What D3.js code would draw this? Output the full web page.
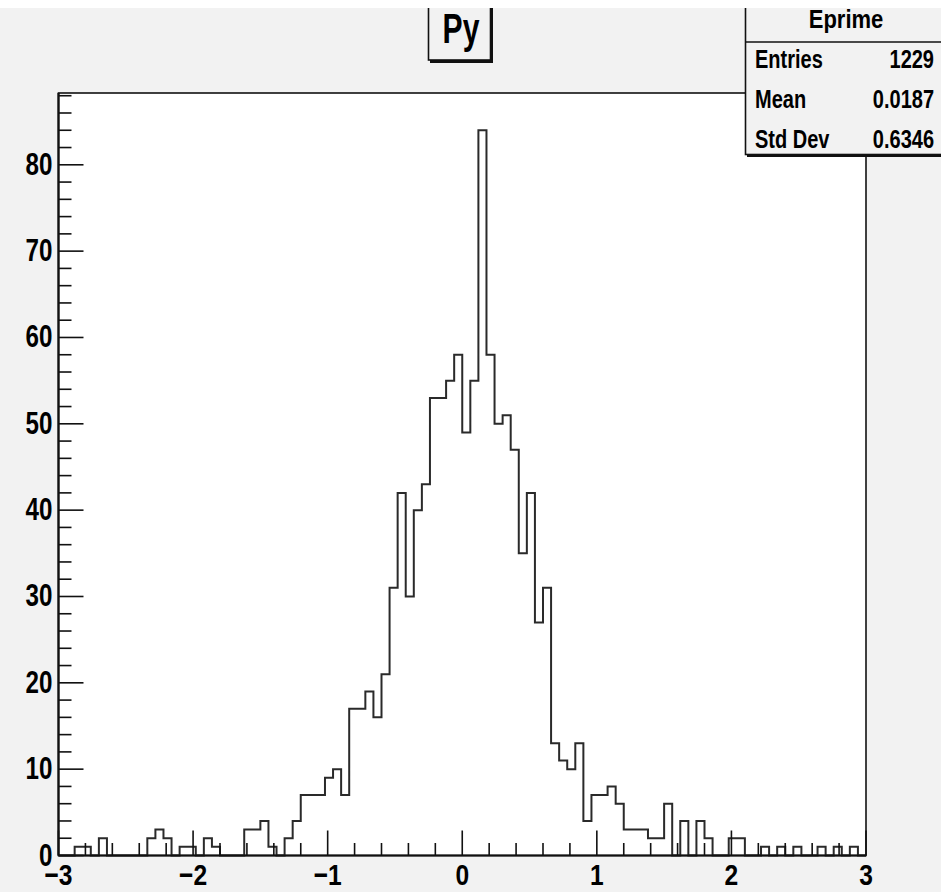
<!DOCTYPE html>
<html><head><meta charset="utf-8">
<script src="https://cdn.jsdelivr.net/npm/d3@7"></script>
<style>html,body{margin:0;padding:0;background:#f2f2f2;}svg{display:block;}</style>
</head><body>
<script>
// ---- data ----
const xMin = -3, xMax = 3;
const binCounts = [
  0,0,1,1,0,2,0,0,0,0,
  0,2,3,2,0,1,1,0,2,1,
  0,0,0,3,3,4,1,0,2,4,
  7,7,7,9,10,7,17,17,19,16,
  21,31,42,30,40,43,53,53,55,58,
  49,55,84,58,50,51,47,35,42,27,
  31,13,11,10,13,4,7,7,8,6,
  3,3,3,2,2,6,0,4,0,4,
  2,0,0,2,2,0,0,1,0,1,
  0,1,0,0,1,0,1,0,1,0
];
const xTickLabels = [-3,-2,-1,0,1,2,3];
const yTickLabels = [0,10,20,30,40,50,60,70,80];
const plotTitle = "Py";
const statsTitle = "Eprime";
const statsNames = ["Entries","Mean","Std Dev"];
const statsValues = ["1229","0.0187","0.6346"];

// ---- layout ----
const W = 941, H = 892;
const fx0 = 58.5, fx1 = 866, fy0 = 94, fy1 = 855.5;
const yMax = d3.max(binCounts) * 1.05;
const FONT = "'Liberation Sans', Arial, Helvetica, sans-serif";

const svg = d3.select("body").append("svg").attr("width", W).attr("height", H);
svg.append("rect").attr("width", W).attr("height", H).attr("fill", "#f2f2f2");

const x = d3.scaleLinear().domain([xMin, xMax]).range([fx0, fx1]);
const y = d3.scaleLinear().domain([0, yMax]).range([fy1, fy0]);
const nBins = binCounts.length;
const bw = (xMax - xMin) / nBins;

function txt(g, px, py, s, size, sx, anchor) {
  return g.append("text")
    .attr("transform", `translate(${px},${py}) scale(${sx},1)`)
    .attr("text-anchor", anchor)
    .attr("font-family", FONT).attr("font-weight", "bold")
    .attr("font-size", size).attr("fill", "#000").text(s);
}

// frame
svg.append("rect").attr("x", fx0).attr("y", fy0 - 1).attr("width", fx1 - fx0).attr("height", fy1 - fy0 + 1)
  .attr("fill", "#fff").attr("stroke", "#111").attr("stroke-width", 1.6);

// histogram outline
let p = `M${x(xMin)},${y(0)}`;
binCounts.forEach((c, i) => {
  p += `V${y(c)}H${x(xMin + (i + 1) * bw)}`;
});
p += `V${y(0)}`;
svg.append("path").attr("d", p).attr("fill", "none").attr("stroke", "#2a2a2a").attr("stroke-width", 2);

// axes
const ax = svg.append("g");
// x ticks: major every 1, minor every 0.2
const xMinor = d3.range(0, 31).map(k => xMin + k * 0.2);
xMinor.forEach(v => {
  const isMajor = Math.abs(v - Math.round(v)) < 1e-6;
  ax.append("line").attr("x1", x(v)).attr("x2", x(v)).attr("y1", fy1).attr("y2", fy1 - (isMajor ? 25 : 12.5))
    .attr("stroke", "#111").attr("stroke-width", 1.6);
});
// y ticks: major every 10, minor every 2
d3.range(0, yMax, 2).forEach(v => {
  const isMajor = v % 10 === 0;
  ax.append("line").attr("x1", fx0).attr("x2", fx0 + (isMajor ? 25 : 13)).attr("y1", y(v)).attr("y2", y(v))
    .attr("stroke", "#111").attr("stroke-width", 1.6);
});
ax.append("line").attr("x1", fx0).attr("x2", fx0).attr("y1", fy0 - 1).attr("y2", fy1).attr("stroke", "#111").attr("stroke-width", 2.2);
ax.append("line").attr("x1", fx0).attr("x2", fx1).attr("y1", fy1).attr("y2", fy1).attr("stroke", "#111").attr("stroke-width", 2.2);

xTickLabels.forEach(v => {
  txt(ax, x(v), 885, v < 0 ? "\u2212" + Math.abs(v) : String(v), 30, 0.82, "middle");
});
yTickLabels.forEach(v => {
  txt(ax, 52.5, y(v) + 10, String(v), 31, 0.78, "end");
});

// title box
const tb = svg.append("g");
tb.append("rect").attr("x", 430).attr("y", -10).attr("width", 63).attr("height", 73).attr("fill", "#111");
tb.append("rect").attr("x", 428.5).attr("y", -10).attr("width", 62).attr("height", 70)
  .attr("fill", "#f2f2f2").attr("stroke", "#111").attr("stroke-width", 1.6);
txt(tb, 461, 43, plotTitle, 43, 0.70, "middle");

// stats box
const sb = svg.append("g");
sb.append("rect").attr("x", 747).attr("y", -10).attr("width", 210).attr("height", 167).attr("fill", "#111");
sb.append("rect").attr("x", 745.5).attr("y", -10).attr("width", 210).attr("height", 164.5)
  .attr("fill", "#f2f2f2").attr("stroke", "#111").attr("stroke-width", 1.6);
sb.append("line").attr("x1", 745.5).attr("x2", W).attr("y1", 42).attr("y2", 42).attr("stroke", "#111").attr("stroke-width", 1.6);
txt(sb, 846, 28, statsTitle, 25, 0.88, "middle");
const rowBase = [68, 108, 148];
statsNames.forEach((n, i) => {
  txt(sb, 755, rowBase[i], n, 25, 0.8, "start");
  txt(sb, 934, rowBase[i], statsValues[i], 25, 0.8, "end");
});

// white strip at top
svg.append("rect").attr("x", 0).attr("y", 0).attr("width", W).attr("height", 8).attr("fill", "#fff");
</script>
</body></html>
